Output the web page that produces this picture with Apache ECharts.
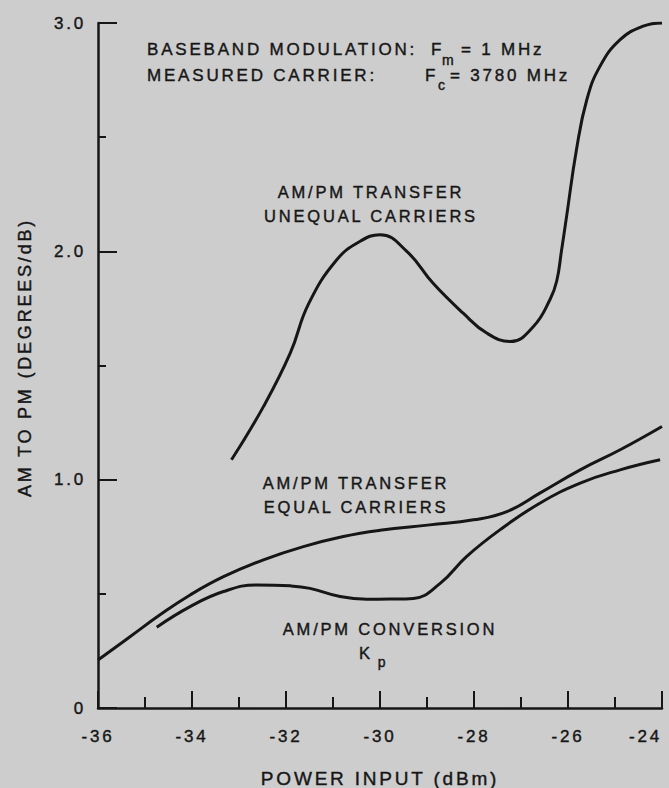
<!DOCTYPE html>
<html>
<head>
<meta charset="utf-8">
<script src="https://cdn.jsdelivr.net/npm/echarts@6/dist/echarts.min.js"></script>
<style>
  html, body { margin: 0; padding: 0; background: #cdcdcd; }
  #chart { width: 669px; height: 788px; letter-spacing: 2.8px; }
</style>
</head>
<body>
<div id="chart"></div>
<script>
// ---- data ----
const xTickValues = [-36, -34, -32, -30, -28, -26, -24];
const yTickLabels = ['0', '1.0', '2.0', '3.0'];

const unequalX = [-33.16, -32.48, -31.91, -31.52, -30.92, -30.43, -30.0, -29.43, -28.87, -28.23, -27.73, -27.23, -26.74, -26.38, -26.24, -26.14, -26.03, -25.82, -25.6, -25.32, -24.89, -24.4, -24.0];
const unequalY = [1.087, 1.32, 1.554, 1.77, 1.963, 2.043, 2.073, 2.0, 1.86, 1.729, 1.642, 1.605, 1.67, 1.79, 1.87, 2.0, 2.153, 2.445, 2.664, 2.81, 2.927, 2.986, 3.0];

const equalX = [-36, -35.32, -34.68, -34.04, -33.33, -32.48, -31.63, -30.78, -30.0, -28.94, -28.01, -27.3, -26.6, -25.74, -24.89, -24.0];
const equalY = [0.21, 0.312, 0.408, 0.495, 0.575, 0.649, 0.707, 0.751, 0.778, 0.802, 0.824, 0.86, 0.941, 1.043, 1.131, 1.233];

const kpX = [-34.75, -34.04, -33.33, -32.62, -31.91, -31.49, -30.85, -30.28, -29.79, -29.29, -28.72, -28.16, -27.45, -26.6, -25.74, -24.89, -24.04];
const kpY = [0.354, 0.444, 0.51, 0.539, 0.535, 0.524, 0.488, 0.476, 0.477, 0.48, 0.546, 0.663, 0.78, 0.897, 0.985, 1.043, 1.087];

const xAxisTitle = 'POWER INPUT (dBm)';
const yAxisTitle = 'AM TO PM (DEGREES/dB)';

// ---- chart ----
const zip = (xs, ys) => xs.map((x, i) => [x, ys[i]]);
const ink = '#161616';
const FONT = "'Liberation Sans', Arial, Helvetica, sans-serif";
const thick = { textBorderColor: ink, textBorderWidth: 0.4 };

const chart = echarts.init(document.getElementById('chart'), null, { renderer: 'svg' });

const lineSeries = (name, xs, ys) => ({
  name, type: 'line', data: zip(xs, ys),
  showSymbol: false, smooth: 0.45,
  lineStyle: { color: ink, width: 3 },
  silent: true, animation: false
});

const txt = (text, x, y, opts = {}) => ({
  type: 'text', x, y, silent: true,
  style: Object.assign({
    text, fill: ink, stroke: ink, lineWidth: 0.4, font: `17px ${FONT}`,
    textAlign: 'left', textVerticalAlign: 'middle'
  }, opts)
});

chart.setOption({
  backgroundColor: '#cdcdcd',
  animation: false,
  textStyle: { fontFamily: FONT, color: ink },
  grid: { left: 98, right: 7, top: 23, bottom: 80, containLabel: false, outerBoundsMode: 'none' },
  xAxis: {
    type: 'value', min: -36, max: -24, interval: 2,
    name: xAxisTitle, nameLocation: 'middle', nameGap: 61,
    nameTextStyle: Object.assign({ fontSize: 19, color: ink, fontFamily: FONT }, thick),
    axisLine: { show: true, lineStyle: { color: ink, width: 2.5 } },
    axisTick: { show: true, inside: true, length: 17, lineStyle: { color: ink, width: 2 } },
    minorTick: { show: true, splitNumber: 2, length: 11, lineStyle: { color: ink, width: 2 } },
    splitLine: { show: false },
    axisLabel: Object.assign({
      fontSize: 17, color: ink, margin: 20, fontFamily: FONT, alignMaxLabel: 'right',
      formatter: v => xTickValues.includes(v) ? String(v) : ''
    }, thick)
  },
  yAxis: {
    type: 'value', min: 0, max: 3, interval: 1,
    name: yAxisTitle, nameLocation: 'middle', nameRotate: 90, nameGap: 64,
    nameTextStyle: Object.assign({ fontSize: 18, color: ink, fontFamily: FONT, padding: [0, 0, 0, 16] }, thick),
    axisLine: { show: true, lineStyle: { color: ink, width: 2.5 } },
    axisTick: { show: true, inside: true, length: 19, lineStyle: { color: ink, width: 2 } },
    minorTick: { show: true, splitNumber: 2, length: 8, lineStyle: { color: ink, width: 2 } },
    splitLine: { show: false },
    axisLabel: Object.assign({
      fontSize: 17, color: ink, margin: 12, fontFamily: FONT,
      formatter: v => yTickLabels[Math.round(v)] ?? ''
    }, thick)
  },
  series: [
    lineSeries('AM/PM TRANSFER UNEQUAL CARRIERS', unequalX, unequalY),
    lineSeries('AM/PM TRANSFER EQUAL CARRIERS', equalX, equalY),
    lineSeries('AM/PM CONVERSION Kp', kpX, kpY)
  ],
  graphic: [
    txt('BASEBAND MODULATION:', 147, 49),
    txt('F', 431, 49),
    txt('m', 442, 60, { font: `14px ${FONT}` }),
    txt('= 1 MHz', 461, 49),
    txt('MEASURED CARRIER:', 147, 75),
    txt('F', 425, 75),
    txt('c', 438, 85, { font: `14px ${FONT}` }),
    txt('= 3780 MHz', 450, 75),
    txt('AM/PM TRANSFER\nUNEQUAL CARRIERS', 371, 204, { textAlign: 'center', lineHeight: 24, font: `16.5px ${FONT}` }),
    txt('AM/PM TRANSFER\nEQUAL CARRIERS', 356, 495, { textAlign: 'center', lineHeight: 24, font: `16.5px ${FONT}` }),
    txt('AM/PM CONVERSION', 390, 629, { textAlign: 'center', font: `16.5px ${FONT}` }),
    txt('K', 366, 653, { textAlign: 'center', font: `16.5px ${FONT}` }),
    txt('p', 383, 662, { textAlign: 'center', font: `14px ${FONT}` })
  ]
});
</script>
</body>
</html>
